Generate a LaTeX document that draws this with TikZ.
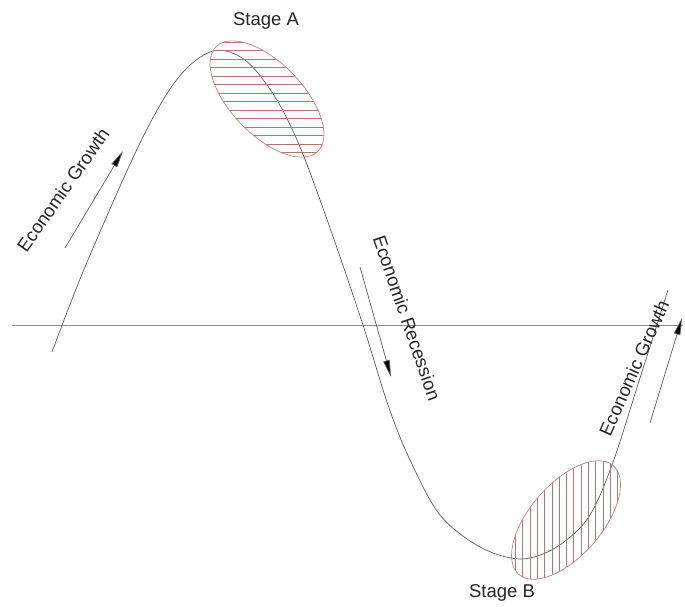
\documentclass[tikz,border=0pt]{standalone}
\usepackage{fontspec}
\setmainfont{Liberation Sans}
\usetikzlibrary{arrows.meta}

\definecolor{curvegray}{RGB}{90,90,90}
\definecolor{axisgray}{RGB}{140,140,140}
\definecolor{zonered}{RGB}{200,125,125}
\definecolor{hatchred}{RGB}{175,118,118}

\tikzset{
  cycleline/.style={draw=curvegray, line width=0.7pt},
  axisline/.style={draw=axisgray, line width=0.9pt},
  trendarrow/.style={draw=curvegray, line width=0.7pt,
    -{Triangle[length=17pt,width=6.5pt,fill=black]}},
  zone/.style={draw=zonered, line width=0.7pt},
  hatchline/.style={draw=hatchred, line width=0.45pt},
  label/.style={font=\fontsize{18.5}{22}\selectfont, text=black!85, inner sep=0pt},
}

\begin{document}
\begin{tikzpicture}[x=1pt, y=-1pt]
  \useasboundingbox (0,0) rectangle (685,607);
  \fill[white] (0,0) rectangle (685,607);

  % horizontal axis
  \coordinate (axL) at (12,325);
  \coordinate (axR) at (683,325);
  \draw[axisline] (axL) -- (axR);

  % business cycle curve
  \draw[cycleline] plot[smooth, tension=0.55] coordinates {
    (52,352) (85,267) (140,143) (178,78) (213,51) (245,60) (275,97)
    (300,147) (330,228) (363,325) (388,405) (410,460) (440,515)
    (480,547) (520,559) (555,548) (588,518) (612,465) (640,378) (668,290)};

  % stage A zone: horizontal hatching
  \coordinate (zA) at (267,99);
  \begin{scope}
    \clip[rotate around={-46:(zA)}] (zA) ellipse [x radius=73, y radius=36];
    \foreach \yy in {42,50.5,...,160} {
      \draw[hatchline] (190,\yy) -- (345,\yy);
    }
  \end{scope}
  \draw[zone, rotate around={-46:(zA)}] (zA) ellipse [x radius=73, y radius=36];

  % stage B zone: vertical hatching
  \coordinate (zB) at (566,520);
  \begin{scope}
    \clip[rotate around={49:(zB)}] (zB) ellipse [x radius=72, y radius=36];
    \foreach \xx in {508,515.3,...,630} {
      \draw[hatchline] (\xx,450) -- (\xx,590);
    }
  \end{scope}
  \draw[zone, rotate around={49:(zB)}] (zB) ellipse [x radius=72, y radius=36];

  % direction arrows
  \coordinate (g1s) at (65,248);
  \coordinate (g1e) at (123,151);
  \draw[trendarrow] (g1s) -- (g1e);
  \coordinate (rs) at (360,267);
  \coordinate (re) at (391,377);
  \draw[trendarrow] (rs) -- (re);
  \coordinate (g2s) at (650,423);
  \coordinate (g2e) at (682,318);
  \draw[trendarrow] (g2s) -- (g2e);

  % labels
  \node[label] (stA) at (266,21) {Stage A};
  \node[label] (stB) at (502,593) {Stage B};
  \node[label, rotate=55] (grow1) at (63,190) {Economic Growth};
  \node[label, rotate=-71] (rec) at (407,318) {Economic Recession};
  \node[label, rotate=66] (grow2) at (634,368) {Economic Growth};
\end{tikzpicture}
\end{document}
